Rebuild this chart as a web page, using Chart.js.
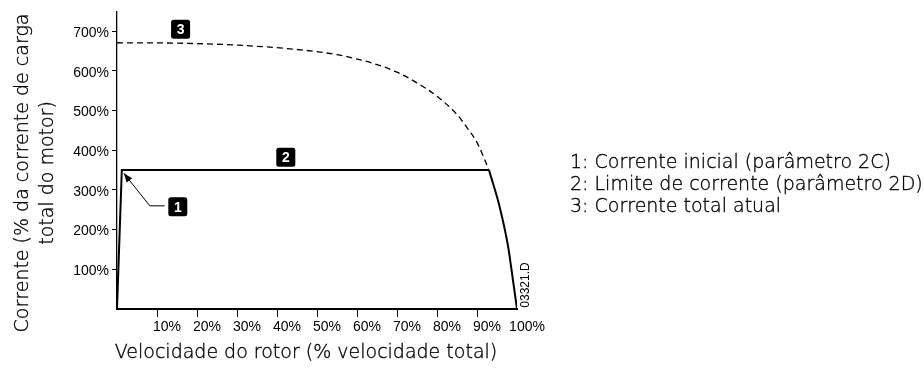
<!DOCTYPE html>
<html>
<head>
<meta charset="utf-8">
<script src="https://cdn.jsdelivr.net/npm/chart.js@4.4.1/dist/chart.umd.min.js"></script>
<style>
  html, body { margin: 0; padding: 0; background: #fff; }
  #wrap { width: 924px; height: 371px; }
</style>
</head>
<body>
<div id="wrap"><canvas id="c" width="924" height="371"></canvas></div>
<script>
// Rotor speed (% of full speed) and full-voltage current (% of motor FLC)
const speedPct    = [0, 15, 30, 45, 55, 60, 65, 70, 75, 80, 85, 88, 90, 93, 95.7, 97.8, 99, 99.7, 100];
const fullCurrent = [671, 670, 665, 654, 641, 630, 616, 597, 570, 536, 490, 450, 420, 350, 256, 156, 72, 22, 0];

// Soft-start current profile: initial current ramp, then current limit
const limitSpeed   = [0, 1.2, 93];
const limitCurrent = [0, 350, 350];

// Speed where the current limit meets the full-voltage curve
const crossoverSpeed = 93;

// Axis ticks
const xTicks = [10, 20, 30, 40, 50, 60, 70, 80, 90, 100];
const yTicks = [100, 200, 300, 400, 500, 600, 700];

// Numbered callouts (speed %, current %)
const badgeText    = ['1', '2', '3'];
const badgeSpeed   = [15.2, 42.2, 15.9];
const badgeCurrent = [257.5, 382.5, 705];

// Leader from callout 1 to the initial current point
const arrowSpeed   = [11.9, 8.2, 1.7];
const arrowCurrent = [260, 260, 342];

const legendLines = [
  '1: Corrente inicial (parâmetro 2C)',
  '2: Limite de corrente (parâmetro 2D)',
  '3: Corrente total atual'
];
const xTitle = 'Velocidade do rotor (% velocidade total)';
const yTitleLines = ['Corrente (% da corrente de carga', 'total do motor)'];
const drawingCode = '03321.D';

const toPoints = (xs, ys) => xs.map((x, i) => ({ x: x, y: ys[i] }));
const fullPts = toPoints(speedPct, fullCurrent);
const dashedPts = fullPts.filter(p => p.x <= crossoverSpeed);
const solidTailPts = fullPts.filter(p => p.x >= crossoverSpeed);

const lightFont = '300 19px "DejaVu Sans", sans-serif';

// light text, given a hairline outline so it reads a little darker
function lightText(ctx, text, x, y) {
  ctx.fillText(text, x, y);
  ctx.strokeText(text, x, y);
}

const annotations = {
  id: 'annotations',
  afterDatasetsDraw(chart) {
    const { ctx, scales: { x, y }, chartArea } = chart;
    ctx.save();

    // leader line with arrow head
    const pts = arrowSpeed.map((s, i) => [x.getPixelForValue(s), y.getPixelForValue(arrowCurrent[i])]);
    ctx.strokeStyle = '#000';
    ctx.lineWidth = 1;
    ctx.beginPath();
    ctx.moveTo(pts[0][0], pts[0][1]);
    for (let i = 1; i < pts.length; i++) ctx.lineTo(pts[i][0], pts[i][1]);
    ctx.stroke();
    const [tx, ty] = pts[pts.length - 1];
    const [px, py] = pts[pts.length - 2];
    const ang = Math.atan2(ty - py, tx - px);
    const L = 9, W = 3.5;
    ctx.fillStyle = '#000';
    ctx.beginPath();
    ctx.moveTo(tx, ty);
    ctx.lineTo(tx - L * Math.cos(ang) + W * Math.sin(ang), ty - L * Math.sin(ang) - W * Math.cos(ang));
    ctx.lineTo(tx - L * Math.cos(ang) - W * Math.sin(ang), ty - L * Math.sin(ang) + W * Math.cos(ang));
    ctx.closePath();
    ctx.fill();

    // numbered callouts
    badgeText.forEach((t, i) => {
      const cx = x.getPixelForValue(badgeSpeed[i]);
      const cy = y.getPixelForValue(badgeCurrent[i]);
      const s = 19;
      ctx.fillStyle = '#000';
      ctx.beginPath();
      ctx.roundRect(cx - s / 2, cy - s / 2, s, s, 2.5);
      ctx.fill();
      ctx.fillStyle = '#fff';
      ctx.font = 'bold 14px "Liberation Sans", Arial, sans-serif';
      ctx.textAlign = 'center';
      ctx.textBaseline = 'middle';
      ctx.fillText(t, cx, cy + 1);
    });

    // drawing code, vertical, beside the curve end
    ctx.save();
    ctx.translate(chartArea.right + 12, chartArea.bottom - 24);
    ctx.rotate(-Math.PI / 2);
    ctx.fillStyle = '#000';
    ctx.font = '12px "Liberation Sans", Arial, sans-serif';
    ctx.textAlign = 'center';
    ctx.textBaseline = 'alphabetic';
    ctx.fillText(drawingCode, 0, 0);
    ctx.restore();

    // axis titles
    ctx.fillStyle = '#000';
    ctx.strokeStyle = '#000';
    ctx.lineWidth = 0.35;
    ctx.font = lightFont;
    ctx.textAlign = 'center';
    ctx.textBaseline = 'alphabetic';
    lightText(ctx, xTitle, chartArea.left + 189, 358);

    yTitleLines.forEach((line, i) => {
      ctx.save();
      ctx.translate(28 + i * 25, 173);
      ctx.rotate(-Math.PI / 2);
      lightText(ctx, line, 0, 0);
      ctx.restore();
    });

    // key
    ctx.textAlign = 'left';
    legendLines.forEach((line, i) => {
      lightText(ctx, line, chartArea.right + 53, 168 + i * 22);
    });

    ctx.restore();
  }
};

new Chart(document.getElementById('c'), {
  type: 'line',
  data: {
    datasets: [
      {
        label: 'Corrente total atual',
        data: dashedPts,
        borderColor: '#000',
        borderWidth: 1.3,
        borderDash: [6, 4],
        pointRadius: 0,
        cubicInterpolationMode: 'monotone',
        fill: false
      },
      {
        label: 'Corrente total atual (acima do limite)',
        data: solidTailPts,
        borderColor: '#000',
        borderWidth: 2,
        pointRadius: 0,
        cubicInterpolationMode: 'monotone',
        fill: false
      },
      {
        label: 'Limite de corrente',
        data: toPoints(limitSpeed, limitCurrent),
        borderColor: '#000',
        borderWidth: 2,
        borderJoinStyle: 'miter',
        pointRadius: 0,
        tension: 0,
        fill: false
      }
    ]
  },
  options: {
    responsive: false,
    animation: false,
    devicePixelRatio: 1,
    layout: { padding: { top: 9, right: 407, left: 0, bottom: 0 } },
    plugins: { legend: { display: false }, tooltip: { enabled: false } },
    scales: {
      x: {
        type: 'linear',
        min: 0,
        max: 100,
        afterFit(scale) { scale.height = 62; },
        afterBuildTicks(scale) { scale.ticks = xTicks.map(v => ({ value: v })); },
        border: { display: true, color: '#000', width: 2 },
        grid: {
          drawOnChartArea: false,
          drawTicks: true,
          tickLength: 8,
          tickWidth: 1,
          tickColor: (ctx) => (ctx.tick && ctx.tick.value === 100 ? 'rgba(0,0,0,0)' : '#000')
        },
        ticks: {
          autoSkip: false,
          maxRotation: 0,
          padding: 2,
          labelOffset: 10,
          color: '#000',
          font: { family: '"Liberation Sans", Arial, sans-serif', size: 14 },
          callback: (v) => v + '%'
        }
      },
      y: {
        type: 'linear',
        min: 0,
        max: 750,
        afterFit(scale) { scale.width = 117; },
        afterBuildTicks(scale) { scale.ticks = yTicks.map(v => ({ value: v })); },
        border: { display: true, color: '#000', width: 1.3 },
        grid: {
          drawOnChartArea: false,
          drawTicks: true,
          tickLength: 5,
          tickWidth: 1,
          tickColor: '#000'
        },
        ticks: {
          autoSkip: false,
          padding: 3,
          labelOffset: 2,
          color: '#000',
          font: { family: '"Liberation Sans", Arial, sans-serif', size: 14 },
          callback: (v) => v + '%'
        }
      }
    }
  },
  plugins: [annotations]
});
</script>
</body>
</html>
